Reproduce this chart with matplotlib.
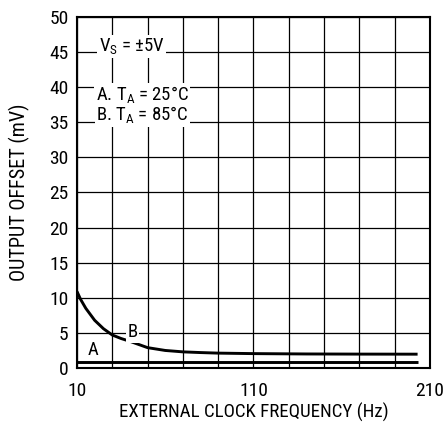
import matplotlib.pyplot as plt

plt.rcParams['font.family'] = ['Roboto Condensed', 'DejaVu Sans']

# curve A: T_A = 25C, curve B: T_A = 85C
freq_a = [10, 50, 100, 150, 203]
offset_a = [0.85, 0.85, 0.85, 0.85, 0.85]
freq_b = [10, 12, 15, 20, 25, 30, 35, 40, 50, 60, 70, 80, 90, 110, 140, 170, 203]
offset_b = [10.9, 9.8, 8.5, 6.8, 5.6, 4.7, 4.2, 3.8, 2.9, 2.5, 2.3, 2.2, 2.12, 2.05, 2.0, 1.98, 1.97]

x_ticks = list(range(10, 211, 20))
x_labels = ['10', '', '', '', '', '110', '', '', '', '', '210']
y_ticks = list(range(0, 51, 5))

fig = plt.figure(figsize=(4.46, 4.23), dpi=100)
ax = fig.add_axes([0.1726, 0.130, 0.964 - 0.1726, 0.960 - 0.130])

ax.plot(freq_a, offset_a, color='black', lw=2.1, solid_capstyle='butt')
ax.plot(freq_b, offset_b, color='black', lw=2.1, solid_capstyle='butt')

ax.set_xlim(10, 210)
ax.set_ylim(0, 50)
ax.set_xticks(x_ticks)
ax.set_xticklabels(x_labels)
ax.set_yticks(y_ticks)
ax.tick_params(length=0, labelsize=14, pad=6)
ax.tick_params(axis='x', pad=10)
ax.grid(True, color='black', lw=0.9)
ax.set_axisbelow(True)
for s in ax.spines.values():
    s.set_linewidth(1.5)

box = dict(facecolor='white', edgecolor='none', pad=1)
ax.text(41, 45.8, r'V$_\mathregular{S}$ = ±5V', ha='center', va='center', fontsize=13.5, bbox=box)
ax.text(47, 38.9, r'A. T$_\mathregular{A}$ = 25°C', ha='center', va='center', fontsize=13.5, bbox=box)
ax.text(47, 36.0, r'B. T$_\mathregular{A}$ = 85°C', ha='center', va='center', fontsize=13.5, bbox=box)
ax.text(41.7, 5.1, 'B', ha='center', va='center', fontsize=13.5, bbox=box)
ax.text(19, 2.6, 'A', ha='center', va='center', fontsize=13.5)

ax.set_xlabel('EXTERNAL CLOCK FREQUENCY (Hz)', fontsize=13.6, labelpad=2)
ax.set_ylabel('OUTPUT OFFSET (mV)', fontsize=14.5, labelpad=14)

fig.savefig('out.png', dpi=100)
